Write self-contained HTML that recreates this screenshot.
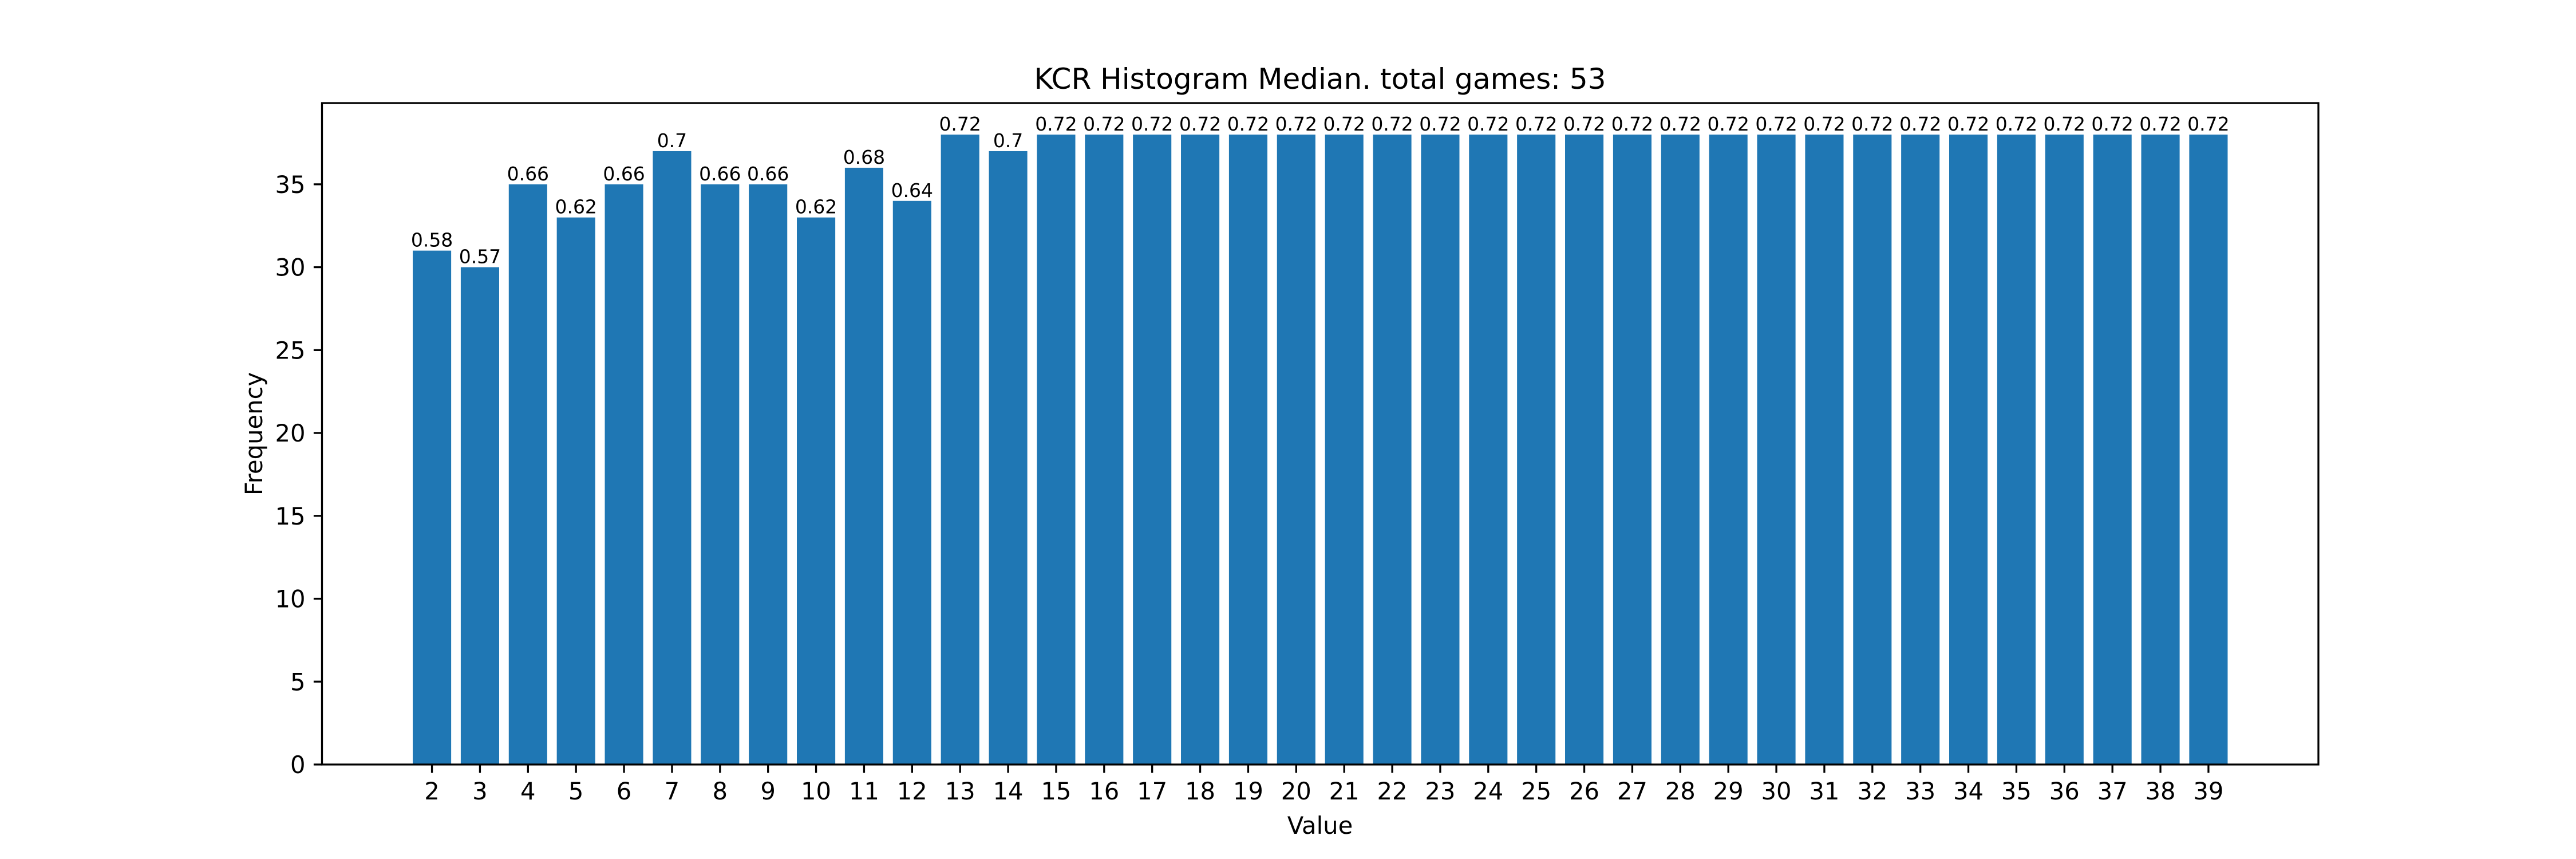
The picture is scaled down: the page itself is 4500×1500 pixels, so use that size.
<!DOCTYPE html>
<html><head><meta charset="utf-8"><style>
html,body{margin:0;padding:0;background:#fff;}
svg{display:block;font-family:"DejaVu Sans","Liberation Sans",sans-serif;}
</style></head><body>
<svg id="chart" width="4500" height="1500" xmlns="http://www.w3.org/2000/svg">
<rect width="4500" height="1500" fill="#fff"/>
<text x="2306" y="155" font-size="50" text-anchor="middle">KCR Histogram Median. total games: 53</text>
<g id="bars"></g>
<g id="labels"></g>
<g id="xticks"></g>
<g id="yticks"></g>
<rect x="562.5" y="180" width="3487.5" height="1155" fill="none" stroke="#000" stroke-width="3.3"/>
<text x="2306" y="1456" font-size="41.7" text-anchor="middle">Value</text>
<text transform="translate(458,757.5) rotate(-90)" font-size="41.7" text-anchor="middle">Frequency</text>
</svg>
<script>
const categories = [2,3,4,5,6,7,8,9,10,11,12,13,14,15,16,17,18,19,20,21,22,23,24,25,26,27,28,29,30,31,32,33,34,35,36,37,38,39];
const frequencies = [31,30,35,33,35,37,35,35,33,36,34,38,37,38,38,38,38,38,38,38,38,38,38,38,38,38,38,38,38,38,38,38,38,38,38,38,38,38];
const barLabels = ["0.58","0.57","0.66","0.62","0.66","0.7","0.66","0.66","0.62","0.68","0.64","0.72","0.7","0.72","0.72","0.72","0.72","0.72","0.72","0.72","0.72","0.72","0.72","0.72","0.72","0.72","0.72","0.72","0.72","0.72","0.72","0.72","0.72","0.72","0.72","0.72","0.72","0.72"];
const yTicks = [0,5,10,15,20,25,30,35];

const NS="http://www.w3.org/2000/svg";
const L=562.5,R=4050,T=180,B=1335;
const xmin=Math.min(...categories)-0.4, xmax=Math.max(...categories)+0.4, xm=(xmax-xmin)*0.05;
const x0=xmin-xm, x1=xmax+xm;
const ymax=Math.max(...frequencies)*1.05;
const xs=v=>L+(v-x0)/(x1-x0)*(R-L);
const ys=v=>B-v/ymax*(B-T);
function mk(tag,attrs,parent){const e=document.createElementNS(NS,tag);for(const k in attrs)e.setAttribute(k,attrs[k]);document.getElementById(parent).appendChild(e);return e;}

categories.forEach((c,i)=>{
  const v=frequencies[i];
  const r=mk('rect',{x:xs(c-0.4),y:ys(v),width:xs(c+0.4)-xs(c-0.4),height:B-ys(v),fill:'#1f77b4'},'bars');
  
  
  const t=mk('text',{x:xs(c),y:ys(v)-7,'font-size':33,'text-anchor':'middle'},'labels');
  t.textContent=barLabels[i];
  
  
  const tk=mk('line',{x1:xs(c),x2:xs(c),y1:B,y2:B+14.6,stroke:'#000','stroke-width':3.3},'xticks');
  
  
  const tl=mk('text',{x:xs(c),y:B+61,'font-size':41.7,'text-anchor':'middle'},'xticks');
  tl.textContent=c;
  
  
});
yTicks.forEach(v=>{
  const tk=mk('line',{x1:L-14.6,x2:L,y1:ys(v),y2:ys(v),stroke:'#000','stroke-width':3.3},'yticks');
  
  
  const tl=mk('text',{x:L-29,y:ys(v)+15,'font-size':41.7,'text-anchor':'end'},'yticks');
  tl.textContent=v;
  
  
});
</script>
</body></html>
